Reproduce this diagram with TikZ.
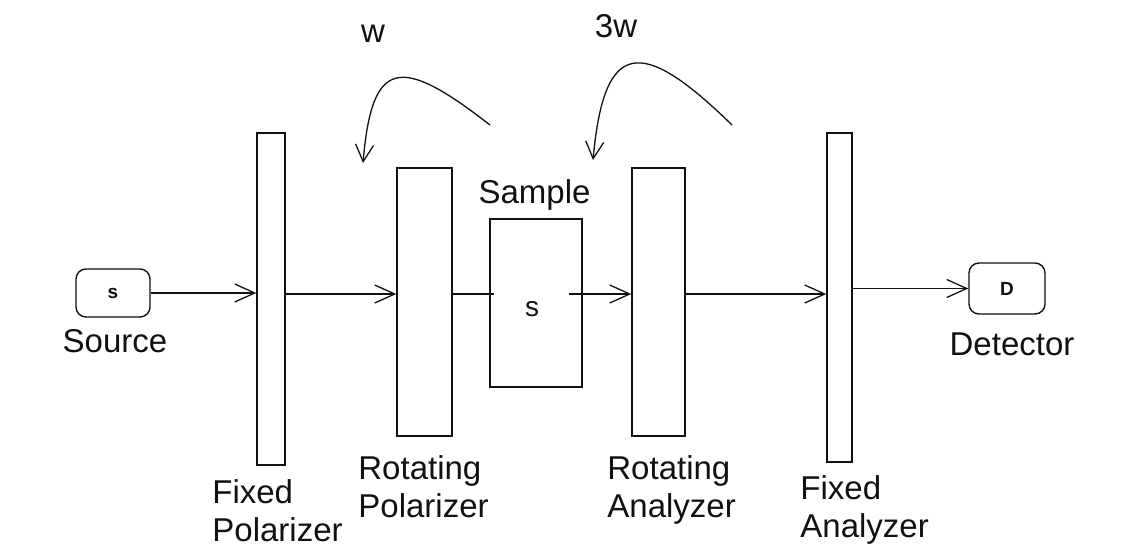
\documentclass[tikz,border=0pt]{standalone}
\usepackage{fontspec}
\setmainfont{Liberation Sans}
\usetikzlibrary{arrows.meta,positioning}
\definecolor{PenInk}{HTML}{111111}
\tikzset{
  every node/.style={font=\fontsize{16.5}{19}\selectfont, text=PenInk},
  plate/.style={draw=PenInk, line width=0.7pt, inner sep=0pt},
  probe/.style={draw=PenInk, line width=0.7pt, rounded corners=5pt, inner sep=0pt,
    font=\bfseries\fontsize{9.5}{11}\selectfont},
  caption/.style={inner sep=0pt, anchor=north west, align=left},
  ray/.style={-{Straight Barb[length=10pt,width=9pt]}, draw=PenInk, line width=0.65pt},
  spin/.style={-{Straight Barb[length=8.5pt,width=9pt]}, draw=PenInk, line width=0.65pt},
}

\begin{document}
\begin{tikzpicture}[x=0.5pt,y=-0.5pt]
  \useasboundingbox (0,0) rectangle (1143,546);
  \coordinate (beam) at (0,294);
  % Source and detector
  \node[probe, minimum width=37pt, minimum height=24pt] (src) at (113,293) {s};
  \node[inner sep=0pt, anchor=base] (srclbl) at (115,352) {Source};
  \node[probe, minimum width=38pt, minimum height=25.5pt] (det) at (1007,288.5) {D};
  \node[inner sep=0pt, anchor=base] (detlbl) at (1012,355) {Detector};
  % Optical elements
  \node[plate, minimum width=14pt, minimum height=166pt] (fp) at (271,299) {};
  \node[plate, minimum width=27.5pt, minimum height=134pt] (rp) at (424.5,302) {};
  \node[plate, minimum width=46pt, minimum height=84pt] (smp) at (536,303) {};
  \node[inner sep=0pt, font=\fontsize{14}{16}\selectfont] (smptxt) at (532,309) {s};
  \node[inner sep=0pt, anchor=base] (smplbl) at (534.5,203) {Sample};
  \node[plate, minimum width=26.5pt, minimum height=134pt] (ra) at (658.5,302) {};
  \node[plate, minimum width=12.5pt, minimum height=164.5pt] (fa) at (839.5,297.5) {};
  % Element captions
  \node[caption] (fplbl) at (212,479) {Fixed\\Polarizer};
  \node[caption] (rplbl) at (358,455) {Rotating\\Polarizer};
  \node[caption] (ralbl) at (607,455) {Rotating\\Analyzer};
  \node[caption] (falbl) at (800,475) {Fixed\\Analyzer};
  % Beam path
  \draw[ray] (src.east) -- (src.east -| fp.west);
  \draw[ray] (fp.east |- beam) -- (rp.west |- beam);
  \draw[draw=PenInk, line width=0.65pt] (rp.east |- beam) -- ([xshift=2.5pt]smp.west |- beam);
  \draw[ray] ([xshift=-7pt]smp.east |- beam) -- (ra.west |- beam);
  \draw[ray] (ra.east |- beam) -- (fa.west |- beam);
  \draw[ray] (fa.east |- det) -- (det.west);
  % Rotation arrows
  \coordinate (rpspin) at (490,125);
  \coordinate (rpend) at (363,163);
  \coordinate (raspin) at (732,125);
  \coordinate (raend) at (593,160);
  \draw[spin] (rpspin) .. controls (400,55) and (372,58) .. (rpend);
  \draw[spin] (raspin) .. controls (640,35) and (604,40) .. (raend);
  \node[inner sep=0pt, anchor=base] (wlbl) at (373,42) {w};
  \node[inner sep=0pt, anchor=base] (wwlbl) at (616,37) {3w};
\end{tikzpicture}
\end{document}
